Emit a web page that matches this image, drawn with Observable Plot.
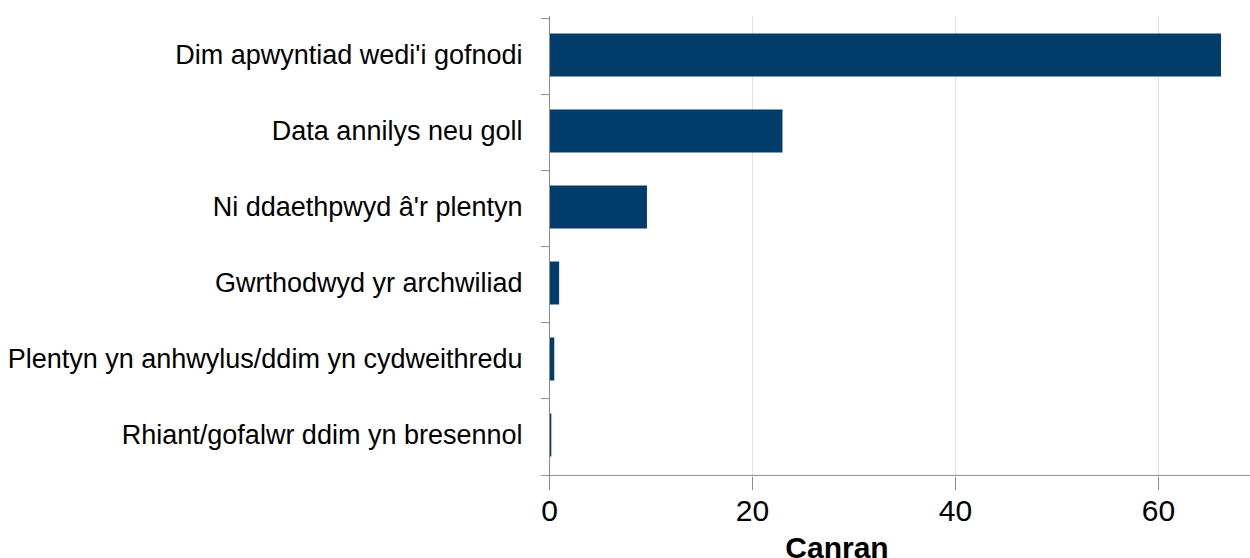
<!DOCTYPE html>
<html>
<head>
<meta charset="utf-8">
<script src="https://cdn.jsdelivr.net/npm/d3@7"></script>
<script src="https://cdn.jsdelivr.net/npm/@observablehq/plot@0.6"></script>
<style>
  html, body { margin: 0; padding: 0; background: #ffffff; }
  #chart { width: 1250px; height: 558px; overflow: hidden; }
</style>
</head>
<body>
<div id="chart"></div>
<script>
const categories = [
  "Dim apwyntiad wedi'i gofnodi",
  "Data annilys neu goll",
  "Ni ddaethpwyd â'r plentyn",
  "Gwrthodwyd yr archwiliad",
  "Plentyn yn anhwylus/ddim yn cydweithredu",
  "Rhiant/gofalwr ddim yn bresennol"
];
const values = [66.2, 23.0, 9.65, 1.0, 0.52, 0.23];
const xTicks = [0, 20, 40, 60];
const gridTicks = [20, 40, 60];
const xLabel = "Canran";

const data = categories.map((c, i) => ({category: c, value: values[i]}));

const W = 1250, H = 558;
const mTop = 16, mBottom = 81, mLeft = 549, mRight = 0;
const step = (H - mTop - mBottom) / categories.length;
const gray = "#8c8c8c";

const boundaries = categories.map(c => ({category: c, side: -1}))
  .concat([{category: categories[categories.length - 1], side: 1}]);

const chart = Plot.plot({
  width: W,
  height: H,
  marginTop: mTop,
  marginBottom: mBottom,
  marginLeft: mLeft,
  marginRight: mRight,
  style: {fontFamily: "'Liberation Sans', Arial, sans-serif", background: "#ffffff", color: "#000"},
  x: {domain: [0, 69.06], axis: null},
  y: {domain: categories, paddingInner: 0.44, paddingOuter: 0.22, axis: null},
  marks: [
    Plot.ruleX(gridTicks, {stroke: "#e3e3e3", strokeWidth: 1}),
    Plot.barX(data, {y: "category", x: "value", fill: "#013c6b", dy: -1.5}),
    Plot.ruleX([0], {stroke: gray, strokeWidth: 1}),
    Plot.ruleY(boundaries.slice(0, -1), {y: "category", x1: -0.8, x2: 0, dy: -step / 2, stroke: gray}),
    Plot.ruleY(boundaries.slice(-1), {y: "category", x1: -0.8, x2: 69.06, dy: step / 2, stroke: gray}),
    Plot.axisY({tickSize: 0, tickPadding: 27, fontSize: 27, anchor: "left", label: null, dy: -1.5}),
    Plot.axisX({ticks: xTicks, tickSize: 13, tickPadding: 9, fontSize: 30, stroke: gray, label: null, anchor: "bottom"}),
    Plot.text([xLabel], {frameAnchor: "bottom", lineAnchor: "middle", dy: 71, dx: -63, fontSize: 30, fontWeight: "bold", fill: "#000"})
  ]
});
document.getElementById("chart").appendChild(chart);
</script>
</body>
</html>
